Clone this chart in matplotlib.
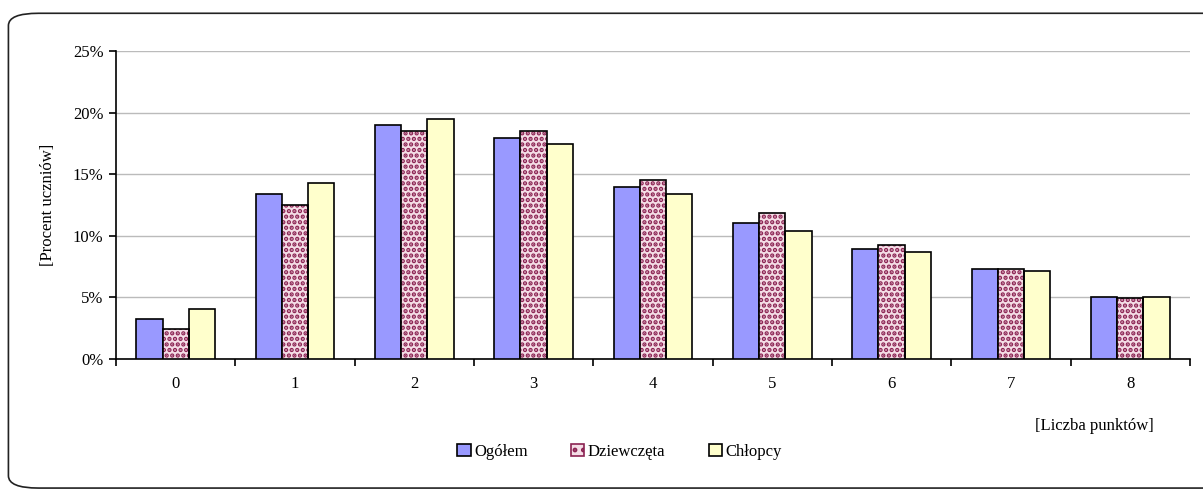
import numpy as np
import matplotlib.pyplot as plt
from matplotlib.patches import FancyBboxPatch, Patch
from matplotlib.ticker import PercentFormatter

plt.rcParams['font.family'] = ['Liberation Serif', 'DejaVu Serif']
plt.rcParams['hatch.linewidth'] = 2.2

punkty = ['0', '1', '2', '3', '4', '5', '6', '7', '8']
ogolem = [3.25, 13.4, 19.0, 17.9, 14.0, 11.0, 8.9, 7.3, 5.0]
dziewczeta = [2.4, 12.5, 18.5, 18.5, 14.5, 11.85, 9.25, 7.3, 4.95]
chlopcy = [4.05, 14.3, 19.5, 17.45, 13.4, 10.4, 8.7, 7.15, 5.0]

fig = plt.figure(figsize=(12.03, 4.92), dpi=100)
ax = fig.add_axes([0.0964, 0.2703, 0.8927, 0.626])

# ramka wokol wykresu
fig.patches.append(FancyBboxPatch((0.007, 0.008), 1.1, 0.965, transform=fig.transFigure,
                                  boxstyle='round,pad=0,rounding_size=0.025',
                                  facecolor='none', edgecolor='#222222', linewidth=1.2))

x = np.arange(len(punkty))
w = 0.22

ax.bar(x - w, ogolem, w, color='#9999FF', edgecolor='black', linewidth=1.2, zorder=3)
# kropkowany wzor dla dziewczat
ax.bar(x, dziewczeta, w, color='#F4DDE6', edgecolor='#8B2252', hatch='...', linewidth=0, zorder=3)
ax.bar(x, dziewczeta, w, color='none', edgecolor='black', linewidth=1.2, zorder=4)
ax.bar(x + w, chlopcy, w, color='#FFFFCC', edgecolor='black', linewidth=1.2, zorder=3)

ax.set_xlim(-0.5, len(punkty) - 0.5)
ax.set_ylim(0, 25)
ax.set_yticks([0, 5, 10, 15, 20, 25])
ax.yaxis.set_major_formatter(PercentFormatter(decimals=0))
ax.grid(axis='y', color='#BBBBBB', linewidth=1, zorder=0)

ax.set_xticks(x)
ax.set_xticklabels(punkty)
ax.set_xticks(np.arange(len(punkty) + 1) - 0.5, minor=True)
ax.tick_params(axis='x', which='major', length=0, pad=12, labelsize=12)
ax.tick_params(axis='x', which='minor', length=5, width=1.2, direction='out')
ax.tick_params(axis='y', length=5, width=1.2, direction='out', labelsize=12, pad=4)

for s in ['top', 'right']:
    ax.spines[s].set_visible(False)
for s in ['left', 'bottom']:
    ax.spines[s].set_linewidth(1.2)

ax.set_ylabel('[Procent uczniów]', fontsize=12, labelpad=12)
fig.text(0.91, 0.135, '[Liczba punktów]', fontsize=12, ha='center', va='center')

handles = [Patch(facecolor='#9999FF', edgecolor='black', linewidth=1.2),
           Patch(facecolor='#F4DDE6', edgecolor='#8B2252', hatch='..', linewidth=1.2),
           Patch(facecolor='#FFFFCC', edgecolor='black', linewidth=1.2)]
fig.legend(handles, ['Ogółem', 'Dziewczęta', 'Chłopcy'], loc='center', bbox_to_anchor=(0.515, 0.082),
           ncol=3, frameon=False, fontsize=12, handlelength=0.8, handleheight=0.8,
           handletextpad=0.2, columnspacing=2.6)

fig.savefig('out.png', dpi=100)
